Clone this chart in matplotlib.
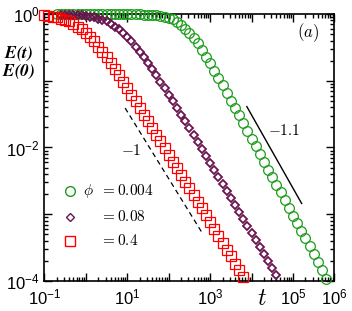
import numpy as np
import matplotlib
matplotlib.use("Agg")
from matplotlib import pyplot as plt
from matplotlib.ticker import LogLocator, FixedLocator, FixedFormatter, NullFormatter

plt.rcParams['font.family'] = ['Liberation Sans', 'DejaVu Sans']
plt.rcParams['mathtext.fontset'] = 'cm'

# log10(t) and log10(E/E0) (one marker every 0.1 decade)
red_logt = [-1.0, -0.9, -0.8, -0.7, -0.6, -0.5, -0.4, -0.3, -0.2, -0.1,
            0.0, 0.1, 0.2, 0.3, 0.4, 0.5, 0.6, 0.7, 0.8, 0.9,
            1.0, 1.1, 1.2, 1.3, 1.4, 1.5, 1.6, 1.7, 1.8, 1.9,
            2.0, 2.1, 2.2, 2.3, 2.4, 2.5, 2.6, 2.7, 2.8, 2.9,
            3.0, 3.1, 3.2, 3.3, 3.4, 3.5, 3.6, 3.7, 3.8]
red_logE = [-0.02, -0.03, -0.04, -0.05, -0.07, -0.09, -0.11, -0.15, -0.19, -0.23,
            -0.29, -0.35, -0.41, -0.49, -0.57, -0.65, -0.74, -0.83, -0.92, -1.02,
            -1.11, -1.21, -1.31, -1.41, -1.51, -1.61, -1.71, -1.81, -1.91, -2.01,
            -2.11, -2.21, -2.31, -2.41, -2.51, -2.61, -2.71, -2.81, -2.91, -3.01,
            -3.12, -3.22, -3.33, -3.43, -3.53, -3.63, -3.74, -3.84, -3.94]

purple_logt = [-0.6, -0.5, -0.4, -0.3, -0.2, -0.1,
               0.0, 0.1, 0.2, 0.3, 0.4, 0.5, 0.6, 0.7, 0.8, 0.9,
               1.0, 1.1, 1.2, 1.3, 1.4, 1.5, 1.6, 1.7, 1.8, 1.9,
               2.0, 2.1, 2.2, 2.3, 2.4, 2.5, 2.6, 2.7, 2.8, 2.9,
               3.0, 3.1, 3.2, 3.3, 3.4, 3.5, 3.6, 3.7, 3.8, 3.9,
               4.0, 4.1, 4.2, 4.3, 4.4, 4.5, 4.6]
purple_logE = [-0.01, -0.01, -0.01, -0.02, -0.02, -0.02,
               -0.03, -0.04, -0.05, -0.07, -0.09, -0.11, -0.15, -0.19, -0.23, -0.29,
               -0.35, -0.41, -0.49, -0.57, -0.65, -0.74, -0.83, -0.92, -1.02, -1.11,
               -1.21, -1.31, -1.41, -1.51, -1.61, -1.71, -1.81, -1.92, -2.02, -2.12,
               -2.23, -2.33, -2.44, -2.54, -2.65, -2.75, -2.86, -2.96, -3.07, -3.17,
               -3.28, -3.38, -3.49, -3.59, -3.70, -3.80, -3.91]

green_logt = [-0.7, -0.6, -0.5, -0.4, -0.3, -0.2, -0.1,
              0.0, 0.1, 0.2, 0.3, 0.4, 0.5, 0.6, 0.7, 0.8, 0.9,
              1.0, 1.1, 1.2, 1.3, 1.4, 1.5, 1.6, 1.7, 1.8, 1.9,
              2.0, 2.1, 2.2, 2.3, 2.4, 2.5, 2.6, 2.7, 2.8, 2.9,
              3.0, 3.1, 3.2, 3.3, 3.4, 3.5, 3.6, 3.7, 3.8, 3.9,
              4.0, 4.1, 4.2, 4.3, 4.4, 4.5, 4.6, 4.7, 4.8, 4.9,
              5.0, 5.1, 5.2, 5.3, 5.4, 5.5, 5.6, 5.7, 5.8]
green_logE = [0.0, 0.0, 0.0, 0.0, 0.0, 0.0, 0.0,
              0.0, 0.0, 0.0, 0.0, 0.0, 0.0, 0.0, 0.0, 0.0, 0.0,
              0.0, 0.0, 0.0, 0.0, -0.01, -0.01, -0.01, -0.02, -0.03, -0.04,
              -0.06, -0.08, -0.12, -0.16, -0.22, -0.28, -0.36, -0.44, -0.54, -0.64,
              -0.74, -0.85, -0.96, -1.07, -1.18, -1.30, -1.41, -1.52, -1.64, -1.75,
              -1.87, -1.98, -2.10, -2.21, -2.33, -2.44, -2.56, -2.67, -2.79, -2.90,
              -3.02, -3.13, -3.25, -3.36, -3.48, -3.59, -3.71, -3.84, -3.97]

# guide lines for the power laws
dash_t = [8.9, 650]
dash_E = [3.9e-2, 5.2e-4]
solid_t = [7.7e3, 1.62e5]
solid_E = [4.1e-2, 1.45e-3]

phi_labels = ["0.004", "0.08", "0.4"]
xtick_pos = [1e-1, 1e0, 1e1, 1e2, 1e3, 1e4, 1e5, 1e6]
xtick_lab = [r"$\mathdefault{10^{-1}}$", "", r"$\mathdefault{10^{1}}$", "",
             r"$\mathdefault{10^{3}}$", "", r"$\mathdefault{10^{5}}$", r"$\mathdefault{10^{6}}$"]
ytick_pos = [1e-4, 1e-3, 1e-2, 1e-1, 1e0]
ytick_lab = [r"$\mathdefault{10^{-4}}$", "", r"$\mathdefault{10^{-2}}$", "", r"$\mathdefault{10^{0}}$"]

green = "#1c9c1c"
purple = "#6a1450"
red = "#ff0000"

fig = plt.figure(figsize=(3.52, 3.11), dpi=100)
ax = fig.add_axes([0.126, 0.0965, 0.824, 0.8585])

ax.plot(10.0 ** np.array(green_logt), 10.0 ** np.array(green_logE), 'o', ms=7,
        mfc='none', mec=green, mew=0.9, clip_on=False, zorder=3)
ax.plot(10.0 ** np.array(purple_logt), 10.0 ** np.array(purple_logE), 'D', ms=4.3,
        mfc='none', mec=purple, mew=1.3, clip_on=False, zorder=4)
ax.plot(10.0 ** np.array(red_logt), 10.0 ** np.array(red_logE), 's', ms=6.5,
        mfc='none', mec=red, mew=0.9, clip_on=False, zorder=5)

ax.plot(dash_t, dash_E, '--', color='black', lw=0.9, dashes=(4, 3))
ax.plot(solid_t, solid_E, '-', color='black', lw=1.0)

ax.set_xscale('log')
ax.set_yscale('log')
ax.set_xlim(1e-1, 1e6)
ax.set_ylim(1e-4, 1e0)

ax.xaxis.set_major_locator(FixedLocator(xtick_pos))
ax.xaxis.set_major_formatter(FixedFormatter(xtick_lab))
ax.yaxis.set_major_locator(FixedLocator(ytick_pos))
ax.yaxis.set_major_formatter(FixedFormatter(ytick_lab))
ax.xaxis.set_minor_locator(LogLocator(base=10, subs=np.arange(2, 10), numticks=20))
ax.yaxis.set_minor_locator(LogLocator(base=10, subs=np.arange(2, 10), numticks=20))
ax.xaxis.set_minor_formatter(NullFormatter())
ax.yaxis.set_minor_formatter(NullFormatter())
ax.tick_params(which='both', direction='in', top=True, right=True, labelsize=12, width=1)
ax.tick_params(which='major', length=6)
ax.tick_params(which='minor', length=3)
ax.tick_params(axis='x', pad=5)
for s in ax.spines.values():
    s.set_linewidth(1.2)

ax.text(10 ** 1.09, 10 ** -2.05, r"$-1$", fontsize=11, ha='center', va='center')
ax.text(10 ** 4.79, 10 ** -1.75, r"$-1.1$", fontsize=11, ha='center', va='center')
ax.text(10 ** 5.37, 10 ** -0.28, r"$(a)$", fontsize=12, ha='center', va='center')

# legend drawn by hand
leg_y = [0.338, 0.241, 0.150]
leg_marker = ['o', 'D', 's']
leg_color = [green, purple, red]
leg_ms = [7, 4.3, 6.5]
for yy, mk, cc, ms, lab in zip(leg_y, leg_marker, leg_color, leg_ms, phi_labels):
    ax.plot([0.0886], [yy], mk, ms=ms, mfc='none', mec=cc, mew=1.0,
            transform=ax.transAxes, clip_on=False)
    ax.text(0.192, yy, r"$= %s$" % lab, fontsize=11, ha='left', va='center',
            transform=ax.transAxes)
ax.text(0.1334, leg_y[0], r"$\phi$", fontsize=11, ha='left', va='center',
        transform=ax.transAxes)

fig.text(19 / 352, 1 - 53.5 / 311, r"$\mathbfit{E(t)}$", fontsize=12.5, ha='center', va='center')
fig.text(19 / 352, 1 - 71.5 / 311, r"$\mathbfit{E(0)}$", fontsize=12.5, ha='center', va='center')
fig.text(262 / 352, 1 - 299 / 311, r"$t$", fontsize=17, ha='center', va='center')

fig.savefig("out.png", dpi=100)
